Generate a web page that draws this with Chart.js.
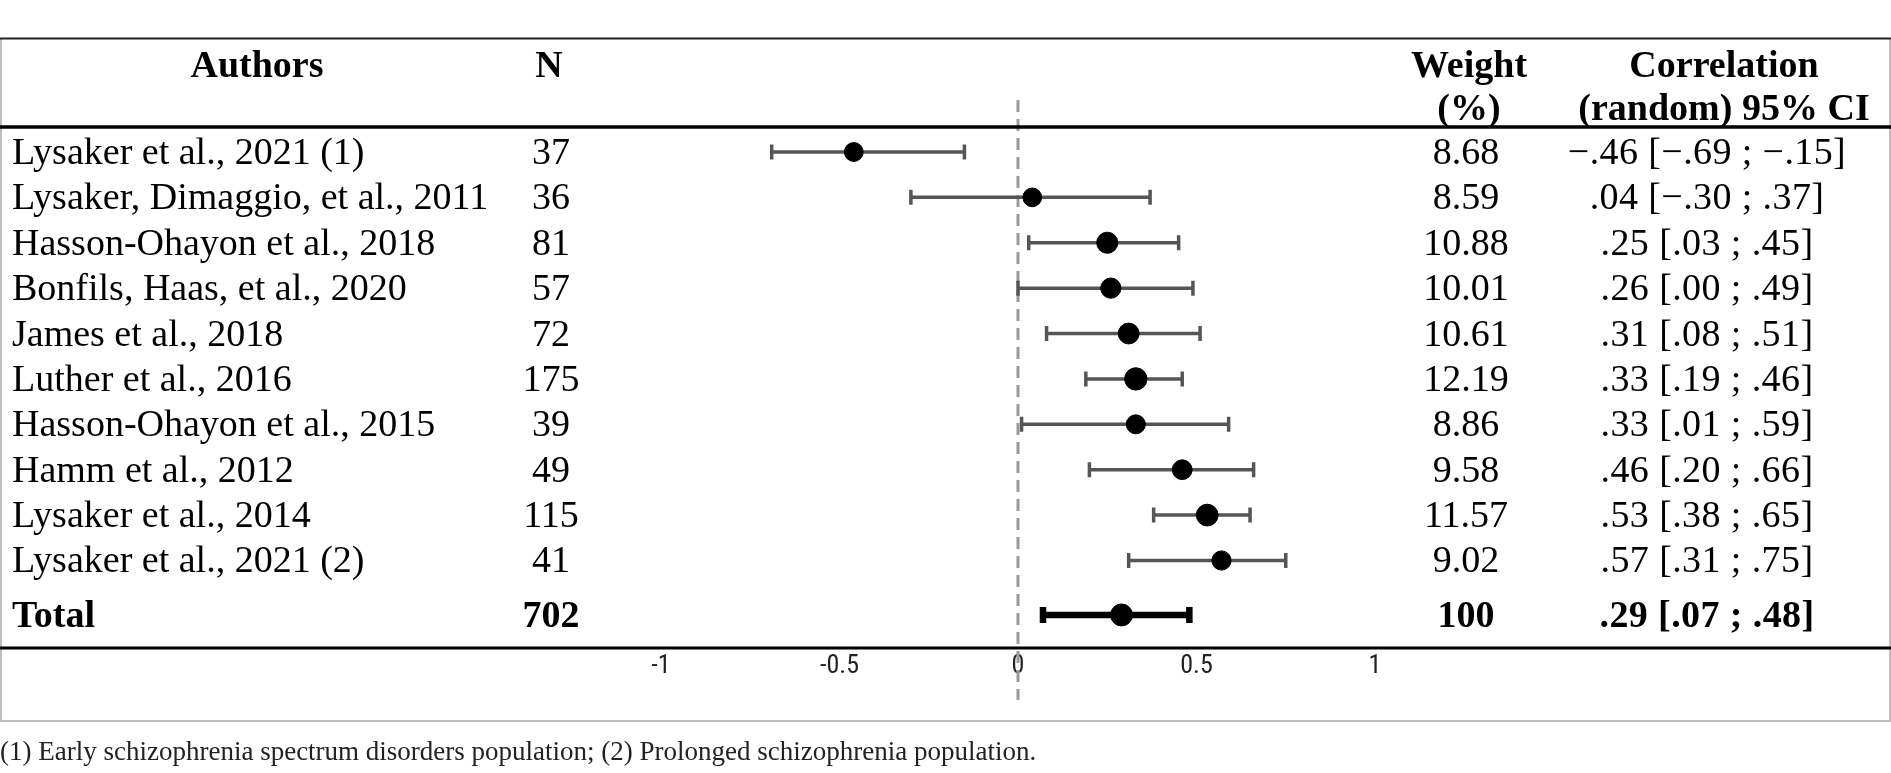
<!DOCTYPE html>
<html>
<head>
<meta charset="utf-8">
<script src="https://cdn.jsdelivr.net/npm/chart.js@4.4.1/dist/chart.umd.min.js"></script>
<style>
  html, body { margin: 0; padding: 0; background: #fff; }
  #wrap { width: 1891px; height: 773px; }
</style>
</head>
<body>
<div id="wrap"><canvas id="forest" width="1891" height="773"></canvas></div>
<script>
// Studies (top to bottom)
const authors = [
  'Lysaker et al., 2021 (1)',
  'Lysaker, Dimaggio, et al., 2011',
  'Hasson-Ohayon et al., 2018',
  'Bonfils, Haas, et al., 2020',
  'James et al., 2018',
  'Luther et al., 2016',
  'Hasson-Ohayon et al., 2015',
  'Hamm et al., 2012',
  'Lysaker et al., 2014',
  'Lysaker et al., 2021 (2)'
];
const sampleSizes = [37, 36, 81, 57, 72, 175, 39, 49, 115, 41];
const weights = [8.68, 8.59, 10.88, 10.01, 10.61, 12.19, 8.86, 9.58, 11.57, 9.02];
const correlations = [-0.46, 0.04, 0.25, 0.26, 0.31, 0.33, 0.33, 0.46, 0.53, 0.57];
const ciLower = [-0.69, -0.30, 0.03, 0.00, 0.08, 0.19, 0.01, 0.20, 0.38, 0.31];
const ciUpper = [-0.15, 0.37, 0.45, 0.49, 0.51, 0.46, 0.59, 0.66, 0.65, 0.75];

// Pooled result
const totalLabel = 'Total';
const totalN = 702;
const totalWeight = 100;
const totalR = 0.29;
const totalLower = 0.07;
const totalUpper = 0.48;

const xTicks = [-1, -0.5, 0, 0.5, 1];
const footnote = '(1) Early schizophrenia spectrum disorders population; (2) Prolonged schizophrenia population.';

const totalGap = 0.2;   // extra space before the Total row
const serif = '"Liberation Serif", "Times New Roman", serif';

// .46 style numbers
function fmt(v) {
  const s = Math.abs(v).toFixed(2).replace(/^0/, '');
  return (v < 0 ? '\u2212' : '') + s;
}
function ciText(r, lo, hi) {
  return fmt(r) + ' [' + fmt(lo) + ' ; ' + fmt(hi) + ']';
}

const studyPoints = correlations.map((r, i) => ({ x: r, y: i }));
const totalPoint = [{ x: totalR, y: authors.length + totalGap }];

const forestPlugin = {
  id: 'forestTable',
  beforeDatasetsDraw(chart) {
    const ctx = chart.ctx;
    const xs = chart.scales.x, ys = chart.scales.y;
    const x0 = xs.getPixelForValue(0);

    // dashed line of no effect
    ctx.save();
    ctx.strokeStyle = '#999';
    ctx.lineWidth = 3;
    ctx.setLineDash([12, 7]);
    ctx.beginPath();
    ctx.moveTo(x0, 100);
    ctx.lineTo(x0, 700);
    ctx.stroke();
    ctx.restore();

    // study CIs
    ctx.save();
    ctx.strokeStyle = '#555';
    ctx.lineWidth = 3.5;
    authors.forEach((a, i) => {
      const y = ys.getPixelForValue(i);
      const xl = xs.getPixelForValue(ciLower[i]);
      const xh = xs.getPixelForValue(ciUpper[i]);
      ctx.beginPath();
      ctx.moveTo(xl, y); ctx.lineTo(xh, y);
      ctx.moveTo(xl, y - 7.5); ctx.lineTo(xl, y + 7.5);
      ctx.moveTo(xh, y - 7.5); ctx.lineTo(xh, y + 7.5);
      ctx.stroke();
    });
    ctx.restore();

    // pooled CI
    ctx.save();
    ctx.strokeStyle = '#000';
    const yt = ys.getPixelForValue(authors.length + totalGap);
    const tl = xs.getPixelForValue(totalLower);
    const th = xs.getPixelForValue(totalUpper);
    ctx.lineWidth = 6.5;
    ctx.beginPath();
    ctx.moveTo(tl, yt); ctx.lineTo(th, yt);
    ctx.moveTo(tl, yt - 8); ctx.lineTo(tl, yt + 8);
    ctx.moveTo(th, yt - 8); ctx.lineTo(th, yt + 8);
    ctx.stroke();
    ctx.restore();
  },
  afterDraw(chart) {
    const ctx = chart.ctx;
    const ys = chart.scales.y;
    const W = chart.width;

    ctx.save();
    // table frame
    ctx.strokeStyle = '#bdbdbd';
    ctx.lineWidth = 2;
    ctx.beginPath();
    ctx.moveTo(1, 38); ctx.lineTo(1, 721);
    ctx.moveTo(W - 1, 38); ctx.lineTo(W - 1, 721);
    ctx.moveTo(0, 721); ctx.lineTo(W, 721);
    ctx.stroke();

    ctx.strokeStyle = '#222';
    ctx.lineWidth = 2;
    ctx.beginPath();
    ctx.moveTo(0, 38.5); ctx.lineTo(W, 38.5);
    ctx.stroke();

    ctx.strokeStyle = '#000';
    ctx.lineWidth = 3.5;
    ctx.beginPath();
    ctx.moveTo(0, 127); ctx.lineTo(W, 127);
    ctx.stroke();
    ctx.lineWidth = 3;
    ctx.beginPath();
    ctx.moveTo(0, 648); ctx.lineTo(W, 648);
    ctx.stroke();

    // header
    ctx.fillStyle = '#000';
    ctx.textBaseline = 'middle';
    ctx.textAlign = 'center';
    ctx.font = 'bold 38px ' + serif;
    ctx.fillText('Authors', 257, 67);
    ctx.fillText('N', 549, 67);
    ctx.fillText('Weight', 1469, 67);
    ctx.fillText('(%)', 1469, 110);
    ctx.fillText('Correlation', 1724, 67);
    ctx.fillText('(random) 95% CI', 1724, 110);

    // study rows
    authors.forEach((a, i) => {
      const y = ys.getPixelForValue(i) + 2;
      ctx.font = '38px ' + serif;
      ctx.letterSpacing = '0px';
      ctx.textAlign = 'left';
      ctx.fillText(a, 12, y);
      ctx.textAlign = 'center';
      ctx.fillText(String(sampleSizes[i]), 551, y);
      ctx.fillText(weights[i].toFixed(2), 1466, y);
      ctx.letterSpacing = '0.4px';
      ctx.fillText(ciText(correlations[i], ciLower[i], ciUpper[i]), 1707, y);
    });

    // total row
    const yt = ys.getPixelForValue(authors.length + totalGap) + 2;
    ctx.font = 'bold 38px ' + serif;
    ctx.letterSpacing = '0px';
    ctx.textAlign = 'left';
    ctx.fillText(totalLabel, 12, yt);
    ctx.textAlign = 'center';
    ctx.fillText(String(totalN), 551, yt);
    ctx.fillText(String(totalWeight), 1466, yt);
    ctx.letterSpacing = '0.4px';
    ctx.fillText(ciText(totalR, totalLower, totalUpper), 1707, yt);

    // footnote
    ctx.letterSpacing = '0px';
    ctx.font = '27px ' + serif;
    ctx.fillStyle = '#222';
    ctx.textAlign = 'left';
    ctx.fillText(footnote, 0, 753);
    ctx.restore();
  }
};

new Chart(document.getElementById('forest'), {
  type: 'scatter',
  data: {
    datasets: [
      {
        data: studyPoints,
        backgroundColor: '#000',
        borderColor: '#000',
        pointRadius: weights.map(w => Math.sqrt(w) * 3.2),
        pointHoverRadius: weights.map(w => Math.sqrt(w) * 3.2)
      },
      {
        data: totalPoint,
        backgroundColor: '#000',
        borderColor: '#000',
        pointRadius: 11,
        pointHoverRadius: 11
      }
    ]
  },
  options: {
    responsive: false,
    animation: false,
    devicePixelRatio: 1,
    layout: {
      padding: { left: 661, right: 516, top: 127, bottom: 94 }
    },
    plugins: {
      legend: { display: false },
      tooltip: { enabled: false },
      title: { display: false }
    },
    scales: {
      x: {
        type: 'linear',
        min: -1,
        max: 1,
        afterBuildTicks: (s) => { s.ticks = xTicks.map(v => ({ value: v })); },
        afterFit: (s) => { s.height = 30; },
        grid: { display: false, drawTicks: false },
        border: { display: false },
        ticks: {
          padding: 2,
          color: '#222',
          callback: (v) => String(v),
          font: { family: '"Liberation Sans Narrow", "Roboto Condensed", Roboto, sans-serif', size: 26 }
        }
      },
      y: {
        type: 'linear',
        reverse: true,
        min: -0.55,
        max: 10.95,
        display: false
      }
    }
  },
  plugins: [forestPlugin]
});
</script>
</body>
</html>
